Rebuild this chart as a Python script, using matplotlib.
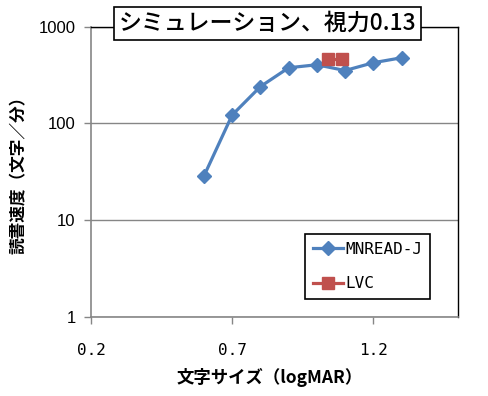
import matplotlib
matplotlib.use("Agg")
import matplotlib.pyplot as plt
from matplotlib.ticker import FixedLocator, NullLocator, FixedFormatter

plt.rcParams['font.family'] = ['Noto Sans CJK JP', 'DejaVu Sans']

title = "シミュレーション、視力0.13"
xlabel = "文字サイズ（logMAR）"
ylabel = "読書速度（文字／分）"

mnread_x = [0.6, 0.7, 0.8, 0.9, 1.0, 1.1, 1.2, 1.3]
mnread_y = [28.5, 122, 240, 376, 404, 352, 424, 477]
lvc_x = [1.04, 1.09]
lvc_y = [462, 462]

x_ticks = [0.2, 0.7, 1.2]
x_ticklabels = ["0.2", "0.7", "1.2"]
y_ticks = [1, 10, 100, 1000]
y_ticklabels = ["1", "10", "100", "1000"]

blue = "#4F81BD"
red = "#C0504D"
gray = "#868686"

fig = plt.figure(figsize=(4.88, 3.96), dpi=100)
ax = fig.add_axes([91/488, 1 - 316.7/396, (458-91)/488, (316.7-26.7)/396])

ax.set_yscale('log')
ax.set_xlim(0.2, 1.5)
ax.set_ylim(1, 1000)

ax.plot(mnread_x, mnread_y, color=blue, lw=2.3, marker='D', markersize=7.5,
        label="MNREAD-J", zorder=3)
ax.plot(lvc_x, lvc_y, color=red, lw=2.3, marker='s', markersize=9,
        label="LVC", zorder=4)

ax.yaxis.set_major_locator(FixedLocator(y_ticks))
ax.yaxis.set_major_formatter(FixedFormatter(y_ticklabels))
ax.yaxis.set_minor_locator(NullLocator())
ax.xaxis.set_major_locator(FixedLocator(x_ticks))
ax.xaxis.set_major_formatter(FixedFormatter(x_ticklabels))
ax.xaxis.set_minor_locator(NullLocator())

ax.grid(axis='y', color=gray, lw=1.0, zorder=0)
ax.set_axisbelow(True)

for s in ['left', 'bottom']:
    ax.spines[s].set_color(gray)
    ax.spines[s].set_linewidth(1.2)
for s in ['top', 'right']:
    ax.spines[s].set_color('black')
    ax.spines[s].set_linewidth(1.0)

ax.tick_params(axis='y', direction='out', length=5, color=gray, width=1.0, pad=6,
               labelsize=12)
ax.tick_params(axis='x', direction='out', length=5, color=gray, width=1.0, pad=14,
               labelsize=11.5)
for lbl in ax.get_yticklabels():
    lbl.set_family(['Liberation Sans', 'DejaVu Sans'])
for lbl in ax.get_xticklabels():
    lbl.set_family(['DejaVu Sans Mono'])

fig.text(19/488, 1 - 171/396, ylabel, rotation=90, ha='center', va='center',
         fontsize=12, fontweight='bold')
fig.text(270/488, 1 - 377/396, xlabel, ha='center', va='center',
         fontsize=12.5, fontweight='bold')

fig.text(267.5/488, 1 - 23.5/396, title, ha='center', va='center', fontsize=16.5,
         fontweight='medium',
         bbox=dict(boxstyle='square,pad=0.2', fc='white', ec='black', lw=1.2),
         zorder=10)

leg = ax.legend(loc='upper left', bbox_to_anchor=(305/488, 1 - 234/396),
                bbox_transform=fig.transFigure, frameon=True, fancybox=False,
                edgecolor='black', framealpha=1, borderpad=0.5,
                handlelength=1.9, handletextpad=0.1, labelspacing=1.2,
                borderaxespad=0,
                prop={'family': 'DejaVu Sans Mono', 'size': 11.5})
leg.get_frame().set_linewidth(1.2)

fig.savefig("out.png", dpi=100)
